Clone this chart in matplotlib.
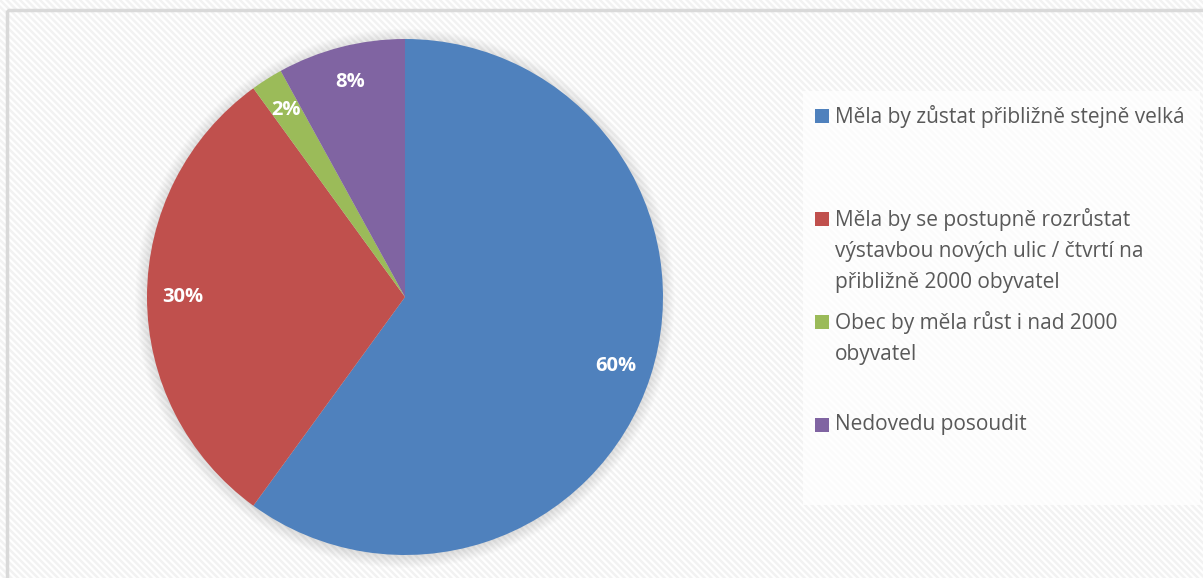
import matplotlib
matplotlib.use("Agg")
import matplotlib.pyplot as plt
from matplotlib.patches import Rectangle, Circle

# Data
labels = ["Měla by zůstat přibližně stejně velká",
          "Měla by se postupně rozrůstat\nvýstavbou nových ulic / čtvrtí na\npřibližně 2000 obyvatel",
          "Obec by měla růst i nad 2000\nobyvatel",
          "Nedovedu posoudit"]
values = [60, 30, 2, 8]
colors = ["#4f81bd", "#c0504d", "#9bbb59", "#8064a2"]

W, H = 1203, 578
plt.rcParams['font.family'] = ['Open Sans', 'DejaVu Sans']
plt.rcParams['hatch.linewidth'] = 1.8

fig = plt.figure(figsize=(W / 100, H / 100), dpi=100)

# background with diagonal stripes + thin frame
bg = fig.add_axes([0, 0, 1, 1])
bg.set_xlim(0, W)
bg.set_ylim(H, 0)
bg.axis("off")
bg.add_patch(Rectangle((0, 0), W, H, facecolor="white", edgecolor="#f2f2f2",
                       hatch="\\" * 5, linewidth=0))
bg.add_patch(Rectangle((7, 10), W + 10, H + 10, facecolor="none",
                       edgecolor="#d9d9d9", linewidth=2.5))
# legend area
bg.add_patch(Rectangle((803, 91), 397, 414, facecolor="white", alpha=0.75,
                       edgecolor="none"))

# pie
cx, cy, r = 405, 297, 258
ax = fig.add_axes([(cx - r) / W, 1 - (cy + r) / H, 2 * r / W, 2 * r / H])
for i in range(10):
    ax.add_patch(Circle((0, -0.005), 1.0 + i * 0.005, facecolor="#000000",
                        alpha=0.012, edgecolor="none", zorder=0, clip_on=False))
wedges, texts, autotexts = ax.pie(values, colors=colors, startangle=90,
                                  counterclock=False, radius=1.0,
                                  autopct="%d%%", pctdistance=0.86,
                                  wedgeprops=dict(linewidth=0))
for t in autotexts:
    t.set_color("white")
    t.set_fontsize(14.5)
    t.set_fontweight("bold")
    t.set_zorder(5)
for w in wedges:
    w.set_zorder(2)
ax.set_xlim(-1, 1)
ax.set_ylim(-1, 1)
ax.set_aspect("equal")
ax.axis("off")

# legend entries, top aligned in equal slots
slot_top = 107
slot_h = 103
for i, (lab, col) in enumerate(zip(labels, colors)):
    y0 = slot_top + i * slot_h
    bg.add_patch(Rectangle((815, y0 + 1.5), 14, 14, facecolor=col, edgecolor="none"))
    bg.text(835, y0 - 2, lab, fontsize=15, color="#595959", va="top",
            ha="left", linespacing=1.62)

fig.savefig("out.png", dpi=100)
